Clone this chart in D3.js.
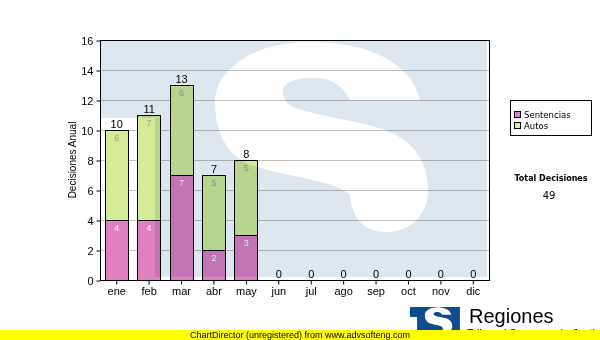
<!DOCTYPE html>
<html>
<head>
<meta charset="utf-8">
<script src="https://cdn.jsdelivr.net/npm/d3@7"></script>
<style>
  body { margin: 0; background: #fff; }
  svg { display: block; font-family: "Liberation Sans", Arial, sans-serif; }
</style>
</head>
<body>
<div id="chart"></div>
<script>
// datos del grafico
var meses = ["ene","feb","mar","abr","may","jun","jul","ago","sep","oct","nov","dic"];
var sentencias = [4,4,7,2,3,0,0,0,0,0,0,0];
var autos = [6,7,6,5,5,0,0,0,0,0,0,0];
var yTicks = [0,2,4,6,8,10,12,14,16];
var series = ["Sentencias","Autos"];
var colores = ["#e080c0","#d5eb98"];

var width = 600, height = 340;
var plot = {x0: 100, x1: 489, y0: 40, y1: 280};

// forma del logo (S blanca sobre fondo azul), coords locales
var logoFondo = "M0,0 L387,0 L387,237 L55,237 L55,78 L0,78 Z";
var logoS = "M320,60 C310,18 260,2 210,2 C150,2 113,32 115,65 C116,95 128,115 150,125 " +
  "C190,138 235,140 250,155 C252,180 265,192 287,192 C310,192 328,175 328,150 " +
  "C328,120 312,100 285,90 C255,80 215,75 195,68 C185,64 183,56 183,52 " +
  "C183,42 195,38 215,38 C235,38 245,50 250,60 Z";

var svg = d3.select("#chart").append("svg")
    .attr("width", width)
    .attr("height", height);

svg.append("rect").attr("width", width).attr("height", height).attr("fill", "#fff");

var x = d3.scaleBand()
    .domain(meses)
    .range([plot.x0, plot.x1])
    .paddingInner(0.29)
    .paddingOuter(0.145);

var y = d3.scaleLinear()
    .domain([0, 16])
    .range([plot.y1, plot.y0]);

// grid
svg.append("g")
  .selectAll("line")
  .data(yTicks.slice(1, -1))
  .join("line")
    .attr("x1", plot.x0).attr("x2", plot.x1)
    .attr("y1", d => y(d) + 0.5).attr("y2", d => y(d) + 0.5)
    .attr("stroke", "#c0c0c0");

var datos = meses.map((m, i) => ({mes: m, sentencias: sentencias[i], autos: autos[i]}));
var stack = d3.stack().keys(["sentencias","autos"])(datos);

var capas = svg.append("g")
  .selectAll("g")
  .data(stack)
  .join("g")
    .attr("fill", (d, i) => colores[i]);

capas.selectAll("rect")
  .data(d => d.filter(e => e[1] > e[0]))
  .join("rect")
    .attr("x", d => Math.round(x(d.data.mes)) + 0.5)
    .attr("y", d => Math.round(y(d[1])) + 0.5)
    .attr("width", Math.round(x.bandwidth()))
    .attr("height", d => Math.round(y(d[0])) - Math.round(y(d[1])))
    .attr("stroke", "#000");

// valores dentro de cada segmento
capas.selectAll("text")
  .data((d, i) => d.filter(e => e[1] > e[0]).map(e => ({e: e, i: i})))
  .join("text")
    .attr("x", d => x(d.e.data.mes) + x.bandwidth() / 2 + 0.5)
    .attr("y", d => y(d.e[1]) + 10.5)
    .attr("text-anchor", "middle")
    .attr("font-size", "9px")
    .attr("fill", d => d.i == 0 ? "#fff" : "#9a9a9a")
    .text(d => d.e[1] - d.e[0]);

// marca de agua
var wm = svg.append("g")
    .attr("transform", `translate(${plot.x0},${plot.y0})`)
    .style("mix-blend-mode", "multiply");
wm.append("path").attr("d", logoFondo).attr("fill", "#dde7f0");
wm.append("path").attr("d", logoS).attr("fill", "#fff");

// totales
svg.append("g")
  .selectAll("text")
  .data(datos)
  .join("text")
    .attr("x", d => x(d.mes) + x.bandwidth() / 2 + 0.5)
    .attr("y", d => y(d.sentencias + d.autos) - 2)
    .attr("text-anchor", "middle")
    .attr("font-size", "11px")
    .attr("fill", "#000")
    .text(d => d.sentencias + d.autos);

// marco del area
svg.append("rect")
    .attr("x", plot.x0 + 0.5).attr("y", plot.y0 + 0.5)
    .attr("width", plot.x1 - plot.x0).attr("height", plot.y1 - plot.y0)
    .attr("fill", "none").attr("stroke", "#000");

var ejeY = svg.append("g")
    .attr("transform", `translate(${plot.x0 + 0.5},0.5)`)
    .call(d3.axisLeft(y).tickValues(yTicks).tickSize(4).tickPadding(3));
var ejeX = svg.append("g")
    .attr("transform", `translate(0.5,${plot.y1 + 0.5})`)
    .call(d3.axisBottom(x).tickSize(4).tickPadding(3));
[ejeY, ejeX].forEach(g => {
  g.select(".domain").remove();
  g.selectAll("line").attr("stroke", "#000");
  g.selectAll("text").attr("font-size", "11px").attr("fill", "#000")
    .attr("font-family", "Liberation Sans, Arial, sans-serif");
});

svg.append("text")
    .attr("transform", "translate(76,160) rotate(-90)")
    .attr("text-anchor", "middle")
    .attr("font-size", "10px")
    .text("Decisiones Anual");

// leyenda
var leyenda = svg.append("g").attr("font-family", "DejaVu Sans, Verdana, sans-serif");
leyenda.append("rect")
    .attr("x", 510.5).attr("y", 100.5).attr("width", 81).attr("height", 35)
    .attr("fill", "#fff").attr("stroke", "#000");
var item = leyenda.selectAll("g.item")
  .data(series)
  .join("g")
    .attr("class", "item")
    .attr("transform", (d, i) => `translate(514,${111 + i * 11})`);
item.append("rect")
    .attr("x", 0.5).attr("y", 0.5).attr("width", 6).attr("height", 6)
    .attr("fill", (d, i) => colores[i]).attr("stroke", "#000");
item.append("text")
    .attr("x", 10).attr("y", 6.5)
    .attr("font-size", "8.5px")
    .text(d => d);

var total = d3.sum(sentencias) + d3.sum(autos);
leyenda.append("text")
    .attr("x", 551).attr("y", 181)
    .attr("text-anchor", "middle")
    .attr("font-size", "8px").attr("font-weight", "bold")
    .text("Total Decisiones");
leyenda.append("text")
    .attr("x", 549).attr("y", 199)
    .attr("text-anchor", "middle")
    .attr("font-size", "10px")
    .text(total);

// logo inferior
var logo = svg.append("g").attr("transform", "translate(410,307) scale(0.129)");
logo.append("path").attr("d", logoFondo).attr("fill", "#0d4d8f");
logo.append("path").attr("d", logoS).attr("fill", "#fff");
svg.append("text")
    .attr("x", 469).attr("y", 323)
    .attr("font-size", "20px")
    .text("Regiones");
svg.append("text")
    .attr("x", 467).attr("y", 337)
    .attr("font-size", "11px")
    .text("Tribunal Supremo de Justicia");

svg.append("rect")
    .attr("x", 0).attr("y", 330).attr("width", width).attr("height", 10)
    .attr("fill", "#ffff00");
svg.append("text")
    .attr("x", 300).attr("y", 338)
    .attr("text-anchor", "middle")
    .attr("font-size", "9px")
    .text("ChartDirector (unregistered) from www.advsofteng.com");
</script>
</body>
</html>
